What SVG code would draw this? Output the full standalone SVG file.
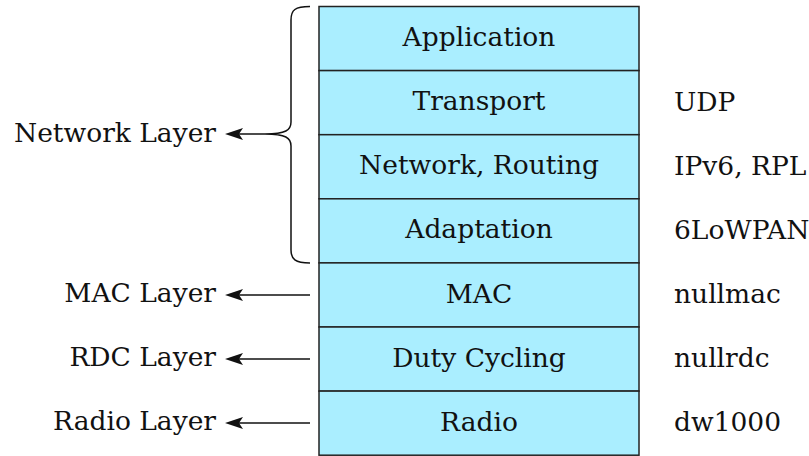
<svg xmlns="http://www.w3.org/2000/svg" width="809" height="456" viewBox="0 0 809 456">
<defs>
<style>
text{font-family:"DejaVu Serif",serif;font-size:26.5px;fill:#111}
.box{fill:#aaeeff;stroke:#222;stroke-width:1.5}
.c{text-anchor:middle}
.l{text-anchor:end}
.ln{fill:none;stroke:#111;stroke-width:1.5}
</style>
<marker id="ah" markerWidth="18" markerHeight="12" refX="15" refY="6" orient="auto" markerUnits="userSpaceOnUse" viewBox="0 0 18 12">
<path d="M0,0 L18,6 L0,12 L4,6 Z" fill="#111"/>
</marker>
</defs>
<rect x="0" y="0" width="809" height="456" fill="#fff"/>
<g id="application"><rect class="box" x="319" y="6.5" width="320" height="64.1"/><text class="c" x="479" y="46">Application</text></g>
<g id="transport"><rect class="box" x="319" y="70.6" width="320" height="64.1"/><text class="c" x="479" y="110">Transport</text><text x="674" y="111">UDP</text></g>
<g id="network"><rect class="box" x="319" y="134.7" width="320" height="64.1"/><text class="c" x="479" y="174">Network, Routing</text><text x="674" y="175">IPv6, RPL</text></g>
<g id="adaptation"><rect class="box" x="319" y="198.8" width="320" height="64.1"/><text class="c" x="479" y="238">Adaptation</text><text x="674" y="239">6LoWPAN</text></g>
<g id="mac"><rect class="box" x="319" y="262.9" width="320" height="64.1"/><text class="c" x="479" y="303">MAC</text><text x="674" y="303">nullmac</text></g>
<g id="dutycycling"><rect class="box" x="319" y="327" width="320" height="64.1"/><text class="c" x="479" y="367">Duty Cycling</text><text x="674" y="367">nullrdc</text></g>
<g id="radio"><rect class="box" x="319" y="391.1" width="320" height="64.1"/><text class="c" x="479" y="431">Radio</text><text x="674" y="431">dw1000</text></g>
<g id="labels">
<text class="l" x="216" y="142">Network Layer</text>
<text class="l" x="216" y="302">MAC Layer</text>
<text class="l" x="216" y="366">RDC Layer</text>
<text class="l" x="216" y="430">Radio Layer</text>
</g>
<g id="connectors">
<path class="ln" d="M310,6.5 C295,6.5 291,10 291,20 L291,122 C291,130 286,134 265,134 C286,134 291,138 291,146 L291,250 C291,259 295,262.9 310,262.9"/>
<path class="ln" d="M265,134 L228,134" marker-end="url(#ah)"/>
<path class="ln" d="M310,295 L228,295" marker-end="url(#ah)"/>
<path class="ln" d="M310,359 L228,359" marker-end="url(#ah)"/>
<path class="ln" d="M310,423 L228,423" marker-end="url(#ah)"/>
</g>
</svg>
